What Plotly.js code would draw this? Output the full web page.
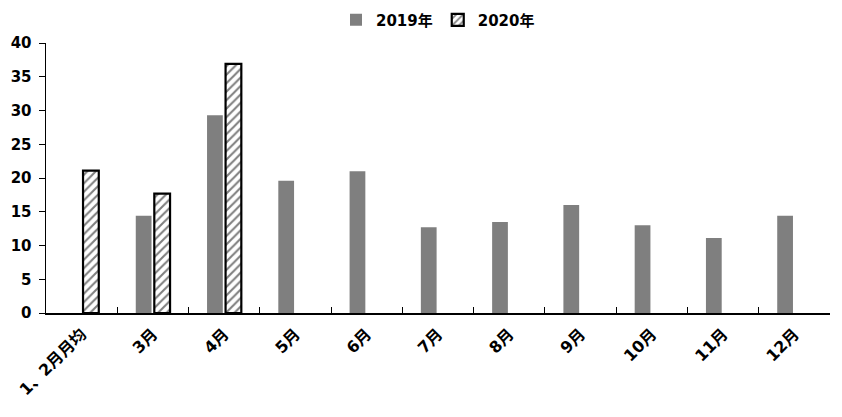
<!DOCTYPE html>
<html>
<head>
<meta charset="utf-8">
<script src="https://cdn.plot.ly/plotly-3.0.1.min.js"></script>
<style>html,body{margin:0;padding:0;background:#fff;}#chart{width:842px;height:417px;}</style>
</head>
<body>
<div id="chart"></div>
<script>
const categories = ["1、2月月均", "3月", "4月", "5月", "6月", "7月", "8月", "9月", "10月", "11月", "12月"];
const values2019 = [null, 14.4, 29.3, 19.6, 21.0, 12.7, 13.5, 16.0, 13.0, 11.1, 14.4];
const values2020 = [21.1, 17.7, 36.9, null, null, null, null, null, null, null, null];
const seriesNames = ["2019年", "2020年"];
const yTicks = [0, 5, 10, 15, 20, 25, 30, 35, 40];

const fontFamily = "'DejaVu Sans', 'Noto Sans CJK SC', sans-serif";

const traces = [
  {
    type: "bar",
    name: seriesNames[0],
    x: categories,
    y: values2019,
    marker: { color: "#7f7f7f", line: { width: 0 } }
  },
  {
    type: "bar",
    name: seriesNames[1],
    x: categories,
    y: values2020,
    marker: {
      color: "#ffffff",
      line: { color: "#000000", width: 2.2 },
      pattern: { shape: "/", fgcolor: "#7f7f7f", bgcolor: "#ffffff", size: 6, solidity: 0.35 }
    }
  }
];

const layout = {
  width: 842,
  height: 417,
  margin: { l: 46, r: 12, t: 43, b: 104, autoexpand: false },
  paper_bgcolor: "#ffffff",
  plot_bgcolor: "#ffffff",
  barmode: "group",
  bargap: 0.48,
  bargroupgap: 0.15,
  font: { family: fontFamily, size: 15, color: "#000000", weight: "bold" },
  showlegend: true,
  legend: {
    orientation: "h",
    x: 0.5, xanchor: "center",
    y: 1.085, yanchor: "middle",
    font: { family: fontFamily, size: 15, color: "#000000", weight: "bold" },
    itemwidth: 30,
    tracegroupgap: 0,
    traceorder: "normal"
  },
  xaxis: {
    type: "category",
    showline: true,
    linecolor: "#000000",
    linewidth: 1.5,
    ticks: "inside",
    tickson: "boundaries",
    ticklen: 6,
    tickcolor: "#000000",
    tickangle: -45,
    showgrid: false,
    zeroline: false,
    ticklabelstandoff: 4,
    tickfont: { family: fontFamily, size: 16, color: "#000000", weight: "bold" }
  },
  yaxis: {
    range: [0, 40],
    tickvals: yTicks,
    ticktext: yTicks.map(String),
    showline: true,
    linecolor: "#000000",
    linewidth: 1.5,
    ticks: "outside",
    ticklen: 6,
    tickcolor: "#000000",
    showgrid: false,
    zeroline: false,
    ticklabelstandoff: 4,
    tickfont: { family: fontFamily, size: 15, color: "#000000", weight: "bold" }
  }
};

Plotly.newPlot("chart", traces, layout, { staticPlot: true, displayModeBar: false });
</script>
</body>
</html>
